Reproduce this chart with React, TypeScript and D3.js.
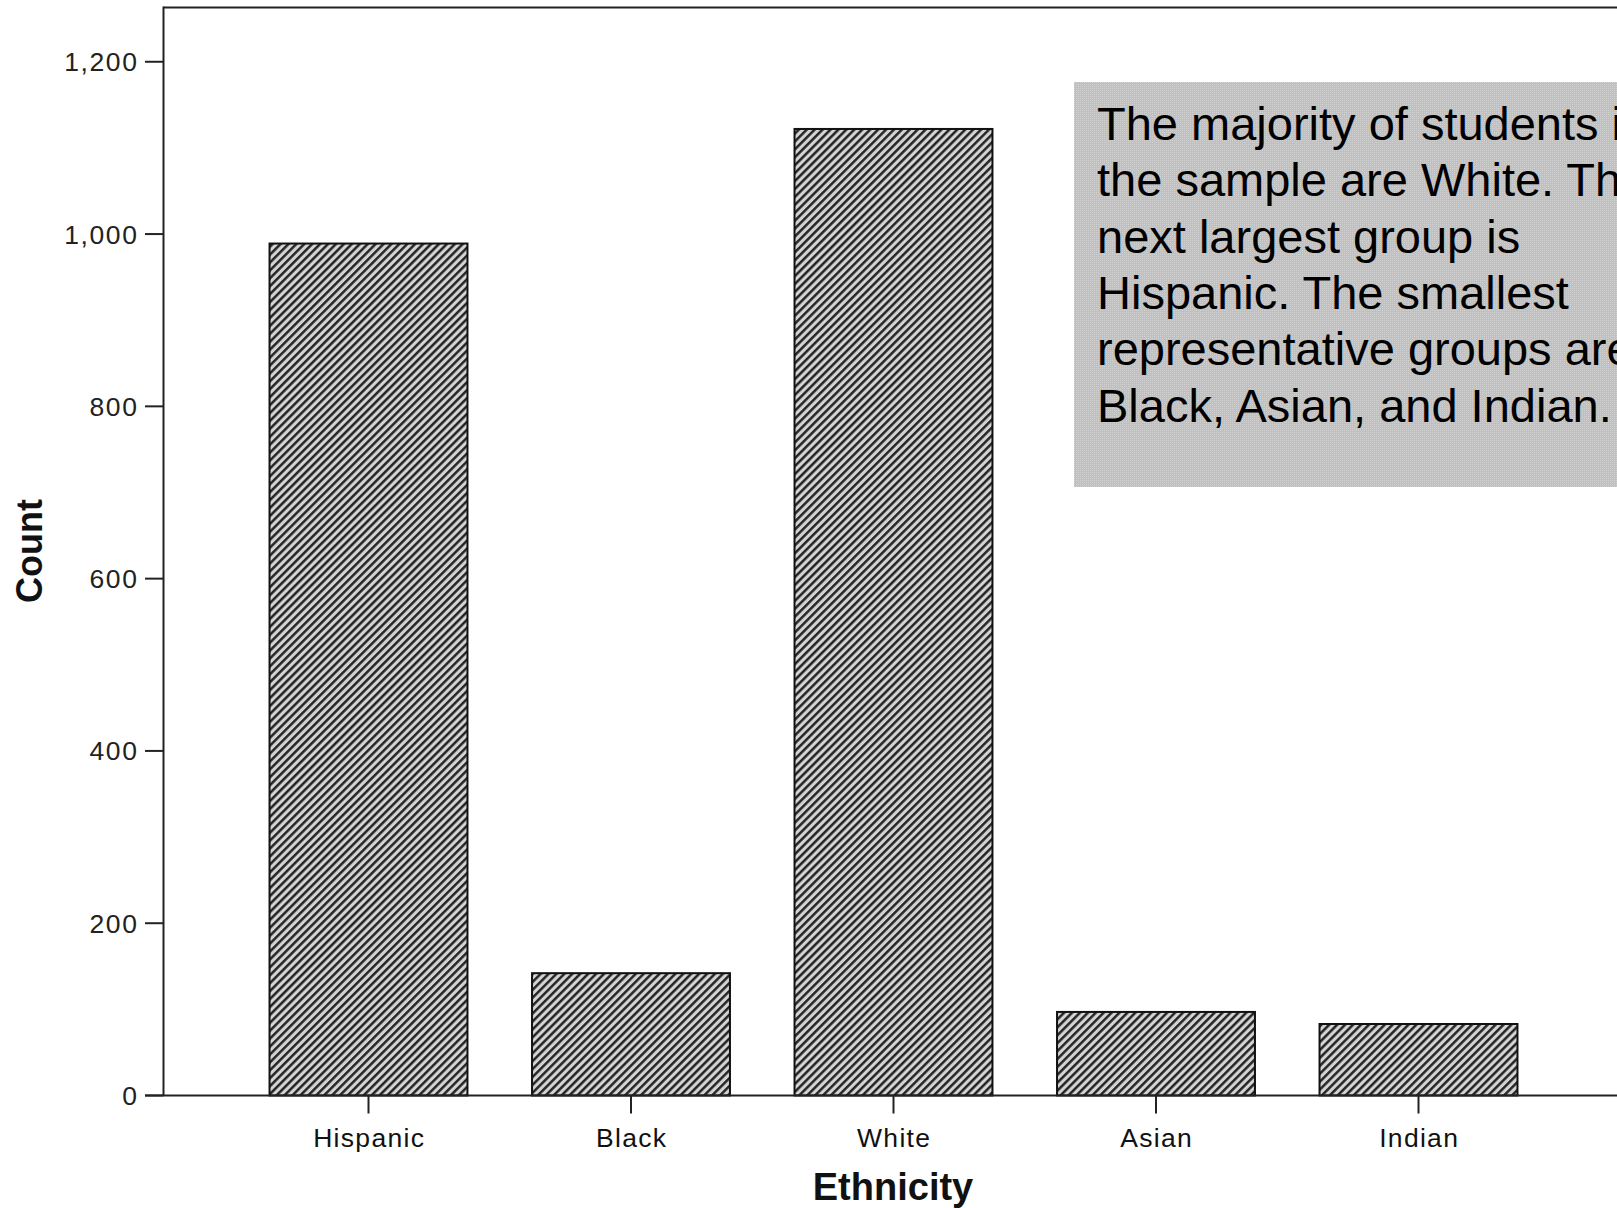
import React from "react";
import * as d3 from "d3";

const categories = ["Hispanic", "Black", "White", "Asian", "Indian"];
const counts = [989, 142, 1122, 97, 83];
const yTicks = [0, 200, 400, 600, 800, 1000, 1200];
const noteLines = [
  "The majority of students in",
  "the sample are White. The",
  "next largest group is",
  "Hispanic. The smallest",
  "representative groups are",
  "Black, Asian, and Indian.",
];

const W = 1617;
const H = 1208;
const FONT = "'Liberation Sans', Arial, sans-serif";

export default function App() {
  const axisX = 163.5;
  const baseY = 1095.5;
  const topY = 7.5;
  const y = d3.scaleLinear().domain([0, 1263]).range([baseY, topY]);
  const x = d3
    .scaleBand<string>()
    .domain(categories)
    .range([237.25, 1549.75])
    .paddingInner(0.246)
    .paddingOuter(0.123);
  const fmt = d3.format(",");

  return (
    <svg
      width={W}
      height={H}
      style={{ position: "absolute", left: 0, top: 0, background: "#fff" }}
      fontFamily={FONT}
    >
      <defs>
        <pattern
          id="hatch"
          patternUnits="userSpaceOnUse"
          width={5.6}
          height={5.6}
          patternTransform="rotate(45)"
        >
          <rect width={5.6} height={5.6} fill="#d4d4d4" />
          <line x1={1.3} y1={0} x2={1.3} y2={5.6} stroke="#1c1c1c" strokeWidth={2.4} />
        </pattern>
        <pattern id="dots" patternUnits="userSpaceOnUse" width={2} height={2}>
          <rect width={2} height={2} fill="#c0c0c0" />
          <rect width={1} height={1} fill="#d0d0d0" />
        </pattern>
      </defs>
      <rect width={W} height={H} fill="#fff" />

      {/* frame */}
      <line x1={axisX} y1={topY} x2={W} y2={topY} stroke="#222" strokeWidth={2} />
      <line x1={axisX} y1={topY - 1} x2={axisX} y2={baseY} stroke="#222" strokeWidth={2} />

      {/* bars */}
      {categories.map((c, i) => (
        <rect
          key={c}
          x={x(c)}
          y={y(counts[i])}
          width={x.bandwidth()}
          height={baseY - y(counts[i])}
          fill="url(#hatch)"
          stroke="#111"
          strokeWidth={2}
        />
      ))}

      {/* x axis */}
      <line x1={145} y1={baseY} x2={W} y2={baseY} stroke="#222" strokeWidth={2} />
      {categories.map((c) => {
        const cx = (x(c) as number) + x.bandwidth() / 2;
        return (
          <g key={c}>
            <line x1={cx} y1={baseY} x2={cx} y2={baseY + 18} stroke="#222" strokeWidth={2} />
            <text
              x={cx + 0.7}
              y={1147}
              textAnchor="middle"
              fontSize={26.5}
              letterSpacing={1.3}
              fill="#111"
            >
              {c}
            </text>
          </g>
        );
      })}

      {/* y axis ticks */}
      {yTicks.map((t) => (
        <g key={t}>
          <line x1={145} y1={y(t)} x2={axisX} y2={y(t)} stroke="#222" strokeWidth={2} />
          <text
            x={138.5}
            y={y(t)}
            dy="0.36em"
            textAnchor="end"
            fontSize={26.5}
            letterSpacing={1.6}
            fill="#222"
          >
            {fmt(t)}
          </text>
        </g>
      ))}

      {/* axis titles */}
      <text x={893} y={1200} textAnchor="middle" fontSize={38} fontWeight="bold" fill="#111">
        Ethnicity
      </text>
      <text
        transform={`translate(42,551) rotate(-90)`}
        textAnchor="middle"
        fontSize={36}
        fontWeight="bold"
        fill="#111"
      >
        Count
      </text>

      {/* annotation box */}
      <rect x={1074} y={82} width={W - 1074} height={405} fill="url(#dots)" />
      {noteLines.map((l, i) => (
        <text key={i} x={1097} y={140 + i * 56.3} fontSize={47} fill="#000">
          {l}
        </text>
      ))}
    </svg>
  );
}
